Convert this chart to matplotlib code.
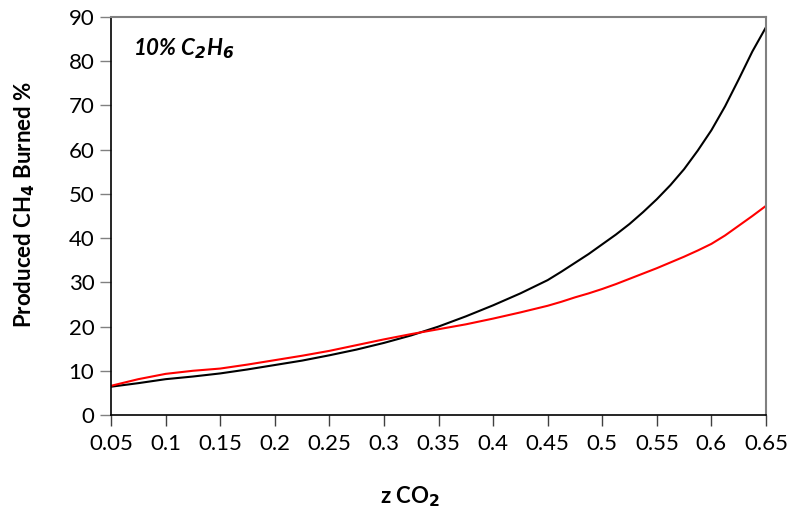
import matplotlib
matplotlib.use("Agg")
import matplotlib.pyplot as plt

z_co2 = [0.05, 0.075, 0.1, 0.125, 0.15, 0.175, 0.2, 0.225, 0.25, 0.275, 0.3, 0.325,
         0.35, 0.375, 0.4, 0.425, 0.45, 0.4625, 0.475, 0.4875, 0.5, 0.5125, 0.525, 0.5375,
         0.55, 0.5625, 0.575, 0.5875, 0.6, 0.6125, 0.625, 0.6375, 0.65]
black_series = [6.4, 7.2, 8.1, 8.7, 9.4, 10.3, 11.3, 12.3, 13.5, 14.8, 16.3, 18.0,
                20.0, 22.3, 24.8, 27.5, 30.5, 32.4, 34.4, 36.4, 38.6, 40.8, 43.2, 45.9,
                48.8, 52.0, 55.6, 59.8, 64.4, 69.8, 75.9, 82.2, 87.7]
red_series = [6.6, 8.1, 9.3, 10.0, 10.5, 11.4, 12.4, 13.4, 14.5, 15.8, 17.1, 18.3,
              19.4, 20.5, 21.8, 23.2, 24.7, 25.6, 26.6, 27.5, 28.5, 29.6, 30.8, 32.0,
              33.2, 34.5, 35.8, 37.2, 38.7, 40.6, 42.8, 45.0, 47.3]
x_ticks = [0.05, 0.1, 0.15, 0.2, 0.25, 0.3, 0.35, 0.4, 0.45, 0.5, 0.55, 0.6, 0.65]
x_tick_labels = ["0.05", "0.1", "0.15", "0.2", "0.25", "0.3", "0.35", "0.4", "0.45",
                 "0.5", "0.55", "0.6", "0.65"]
y_ticks = [0, 10, 20, 30, 40, 50, 60, 70, 80, 90]

plt.rcParams['font.family'] = ['Lato', 'DejaVu Sans']
plt.rcParams['mathtext.fontset'] = 'dejavusans'

fig = plt.figure(figsize=(7.94, 5.17), dpi=100)
ax = fig.add_axes([111/794, 1 - 415/517, (766-111)/794, (415-17)/517])

ax.plot(z_co2, black_series, color='black', lw=1.5)
ax.plot(z_co2, red_series, color='red', lw=1.5)

ax.set_xlim(0.05, 0.65)
ax.set_ylim(0, 90)
ax.set_xticks(x_ticks)
ax.set_xticklabels(x_tick_labels)
ax.set_yticks(y_ticks)
ax.tick_params(axis='x', direction='out', length=8, width=1, color='#404040',
               labelsize=16, pad=6)
ax.tick_params(axis='y', direction='out', length=8, width=1, color='#808080',
               labelsize=16, pad=4)

for s in ['left', 'bottom']:
    ax.spines[s].set_color('black')
    ax.spines[s].set_linewidth(1.2)
for s in ['top', 'right']:
    ax.spines[s].set_color('#808080')
    ax.spines[s].set_linewidth(1.5)

xl = ax.set_xlabel(r'z CO$_{\mathbf{2}}$', fontsize=16, fontweight='bold')
xl.set_va('center')
ax.xaxis.set_label_coords(0.456, -0.206)
yl = ax.set_ylabel(r'Produced CH$_{\mathbf{4}}$ Burned %', fontsize=16, fontweight='bold')
yl.set_va('center')
ax.yaxis.set_label_coords(-0.131, 0.53)

ax.text(0.033, 0.92, r'10% C$_{\mathbfit{2}}$H$_{\mathbfit{6}}$', transform=ax.transAxes,
        fontsize=16, fontweight='bold', fontstyle='italic', va='center', ha='left')

fig.savefig('out.png', dpi=100)
